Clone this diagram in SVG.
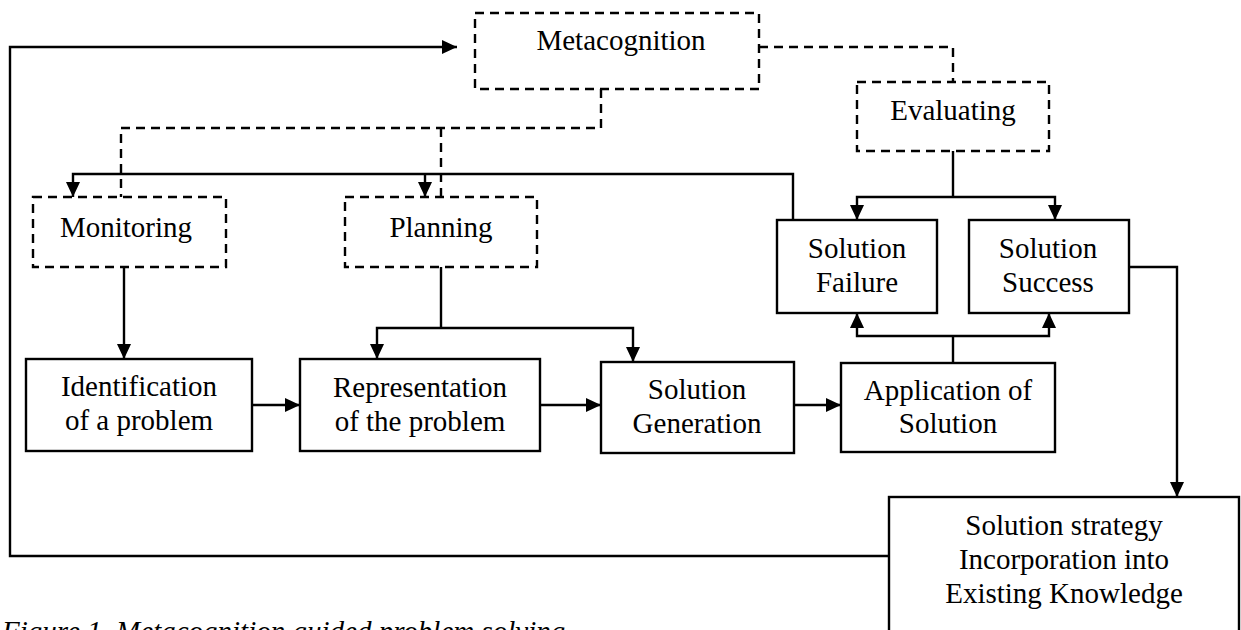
<svg xmlns="http://www.w3.org/2000/svg" width="1241" height="630" viewBox="0 0 1241 630">
<style>
.box{fill:#fff;stroke:#000;stroke-width:2.4}
.dbox{fill:#fff;stroke:#000;stroke-width:2.4;stroke-dasharray:9 6}
.t{font-family:"Liberation Serif","Times New Roman",serif;font-size:29px;text-anchor:middle;fill:#000}
.ln{fill:none;stroke:#000;stroke-width:2.4}
.dl{fill:none;stroke:#000;stroke-width:2.4;stroke-dasharray:9 6}
.arr{marker-end:url(#ah)}
.cap{font-family:"Liberation Serif","Times New Roman",serif;font-size:29px;font-style:italic;fill:#000}
</style>
<defs>
<marker id="ah" markerWidth="15" markerHeight="14" refX="15" refY="7" orient="auto" markerUnits="userSpaceOnUse">
<path d="M0,0 L15,7 L0,14 z" fill="#000"/>
</marker>
</defs>
<rect width="1241" height="630" fill="#fff"/>
<text class="cap" x="2" y="641">Figure 1. Metacognition guided problem solving</text>
<g id="connectors">
<path class="ln arr" d="M889,556 H10 V47 H457"/>
<path class="dl" d="M601,89 V128 H121 V197"/>
<path class="dl" d="M441,128 V197"/>
<path class="dl" d="M759,47 H953 V82"/>
<path class="ln arr" d="M793,220 V174 H73 V197"/>
<path class="ln arr" d="M425,174 V197"/>
<path class="ln" d="M953,151 V197"/>
<path class="ln arr" d="M953,197 H857 V220"/>
<path class="ln arr" d="M953,197 H1055 V220"/>
<path class="ln arr" d="M124,267 V359"/>
<path class="ln" d="M441,267 V328"/>
<path class="ln arr" d="M441,328 H377 V359"/>
<path class="ln arr" d="M441,328 H633 V362"/>
<path class="ln arr" d="M252,405 H300"/>
<path class="ln arr" d="M540,405 H601"/>
<path class="ln arr" d="M794,405 H841"/>
<path class="ln" d="M953,363 V336"/>
<path class="ln arr" d="M953,336 H857 V313"/>
<path class="ln arr" d="M953,336 H1049 V313"/>
<path class="ln arr" d="M1129,267 H1177 V497"/>
</g>
<g id="metacognition"><rect class="dbox" x="475" y="13" width="284" height="76"/><text class="t" x="621" y="50">Metacognition</text></g>
<g id="evaluating"><rect class="dbox" x="857" y="82" width="192" height="69"/><text class="t" x="953" y="120">Evaluating</text></g>
<g id="monitoring"><rect class="dbox" x="33" y="197" width="193" height="70"/><text class="t" x="126" y="237">Monitoring</text></g>
<g id="planning"><rect class="dbox" x="345" y="197" width="192" height="70"/><text class="t" x="441" y="237">Planning</text></g>
<g id="failure"><rect class="box" x="777" y="220" width="160" height="93"/><text class="t" x="857" y="258">Solution</text><text class="t" x="857" y="292">Failure</text></g>
<g id="success"><rect class="box" x="969" y="220" width="160" height="93"/><text class="t" x="1048" y="258">Solution</text><text class="t" x="1048" y="292">Success</text></g>
<g id="identification"><rect class="box" x="26" y="359" width="226" height="92"/><text class="t" x="139" y="396">Identification</text><text class="t" x="139" y="430">of a problem</text></g>
<g id="representation"><rect class="box" x="300" y="359" width="240" height="92"/><text class="t" x="420" y="397">Representation</text><text class="t" x="420" y="431">of the problem</text></g>
<g id="generation"><rect class="box" x="601" y="362" width="193" height="91"/><text class="t" x="697" y="399">Solution</text><text class="t" x="697" y="433">Generation</text></g>
<g id="application"><rect class="box" x="841" y="363" width="214" height="89"/><text class="t" x="948" y="400">Application of</text><text class="t" x="948" y="433">Solution</text></g>
<g id="incorporation"><rect class="box" x="889" y="497" width="350" height="150"/><text class="t" x="1064" y="535">Solution strategy</text><text class="t" x="1064" y="569">Incorporation into</text><text class="t" x="1064" y="603">Existing Knowledge</text></g>
</svg>
